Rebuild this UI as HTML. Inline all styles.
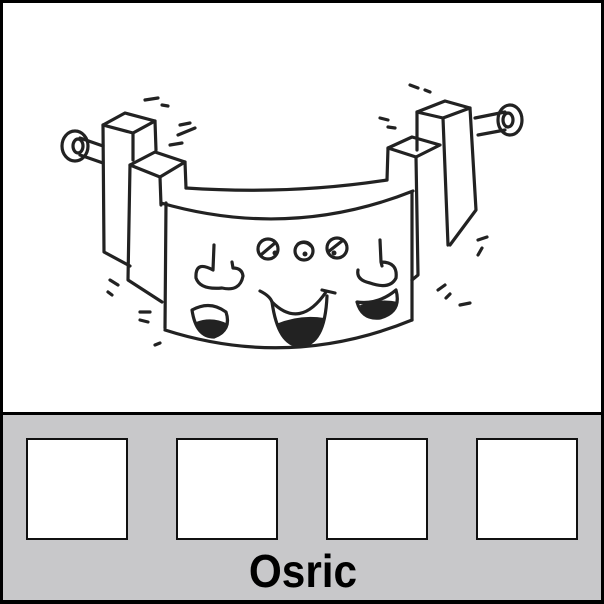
<!DOCTYPE html>
<html><head><style>
html,body{margin:0;padding:0;background:#fff}
.wrap{position:relative;width:604px;height:604px;overflow:hidden}
</style></head><body><div class="wrap">
<svg width="604" height="604" viewBox="0 0 604 604" xmlns="http://www.w3.org/2000/svg">
<rect x="0" y="0" width="604" height="604" fill="#fff"/>
<rect x="1.5" y="1.5" width="601" height="601" fill="none" stroke="#000" stroke-width="3"/>
<rect x="1.5" y="413.5" width="601" height="188" fill="#c8c8ca" stroke="#000" stroke-width="3"/>
<g fill="#fff" stroke="#111" stroke-width="2">
<rect x="27" y="439" width="100" height="100"/>
<rect x="177" y="439" width="100" height="100"/>
<rect x="327" y="439" width="100" height="100"/>
<rect x="477" y="439" width="100" height="100"/>
</g>
<text x="303" y="587" text-anchor="middle" font-family="Liberation Sans, sans-serif" font-weight="bold" font-size="46" transform="translate(303 0) scale(0.92 1) translate(-303 0)">Osric</text>
<g fill="none" stroke="#222" stroke-width="3.2" stroke-linecap="round" stroke-linejoin="round">
<ellipse cx="75" cy="146" rx="13" ry="15"/>
<ellipse cx="78" cy="146" rx="5" ry="7"/>
<path d="M80 138 L103 146 M80 155 L103 163"/>
<ellipse cx="510" cy="120" rx="12" ry="15"/>
<ellipse cx="508" cy="120" rx="5" ry="7"/>
<path d="M505 112 L475 118 M505 130 L478 135"/>
<path d="M103 125 L125 113 L155 121 L133 133 Z"/>
<path d="M103 125 L104 252 L130 266"/>
<path d="M133 133 L133 160 M155 121 L156 150"/>
<path d="M130 165 L155 152 L185 162 L160 177 Z"/>
<path d="M130 165 L128 280 L162 302"/>
<path d="M160 177 L161 205 M185 162 L186 188"/>
<path d="M417 112 L445 101 L470 108 L443 118 Z"/>
<path d="M470 108 L476 210 L450 245"/>
<path d="M417 112 L417 150 M443 118 L448 245"/>
<path d="M388 148 L412 137 L440 145 L416 157 Z"/>
<path d="M416 157 L418 275 L412 280"/>
<path d="M388 148 L387 180"/>
<path d="M186 188 Q290 195 387 180"/>
<path d="M161 203 Q290 240 413 191"/>
<path d="M166 203 L165 328"/>
<path d="M412 193 L412 320"/>
<path d="M165 330 Q290 370 412 320"/>
<circle cx="268" cy="249" r="10"/><circle cx="304" cy="251" r="9"/><circle cx="337" cy="248" r="10"/>
<path d="M262 254 L275 243 M328 252 L342 241 M298 244 Q305 240 311 246"/>
<path d="M214 245 L213 270 Q195 260 196 278 Q200 290 222 288 Q240 292 243 276 Q242 268 233 268 L232 262"/>
<path d="M380 240 L381 262 Q398 262 396 278 Q390 290 370 283 Q356 280 358 270 M381 262 L382 266"/>
<path d="M192 310 Q210 300 226 312 Q232 330 214 337 Q196 337 192 310 Z"/>
<path d="M260 291 Q270 296 272 302 Q300 330 326 292 M322 290 L335 293"/>
<path d="M272 302 Q278 345 300 346 Q325 345 327 296"/>
<path d="M357 302 Q378 305 396 290 Q402 312 380 318 Q362 320 357 302 Z"/>
<path d="M145 100 L158 98 M162 105 L168 106 M180 125 L190 123 M178 135 L195 128 M170 145 L182 143"/>
<path d="M410 85 L418 88 M425 90 L430 92 M380 118 L388 120 M388 127 L395 128"/>
<path d="M478 240 L487 237 M478 255 L482 248 M438 290 L445 285 M446 298 L450 294 M110 280 L118 285 M108 292 L112 295 M140 312 L150 312 M140 320 L148 322 M155 345 L160 343 M460 305 L470 303"/>
</g>
<g fill="#222">
<path d="M196 322 Q212 316 228 324 Q226 336 213 338 Q199 337 196 322 Z"/>
<path d="M276 324 Q300 314 324 318 Q318 344 300 346 Q282 345 276 324 Z"/>
<path d="M360 305 Q380 298 398 302 Q392 318 378 319 Q362 318 360 305 Z"/>
<circle cx="275" cy="253" r="2.5"/><circle cx="305" cy="254" r="2.5"/><circle cx="334" cy="253" r="2.5"/>
</g>
</svg>
</div></body></html>
